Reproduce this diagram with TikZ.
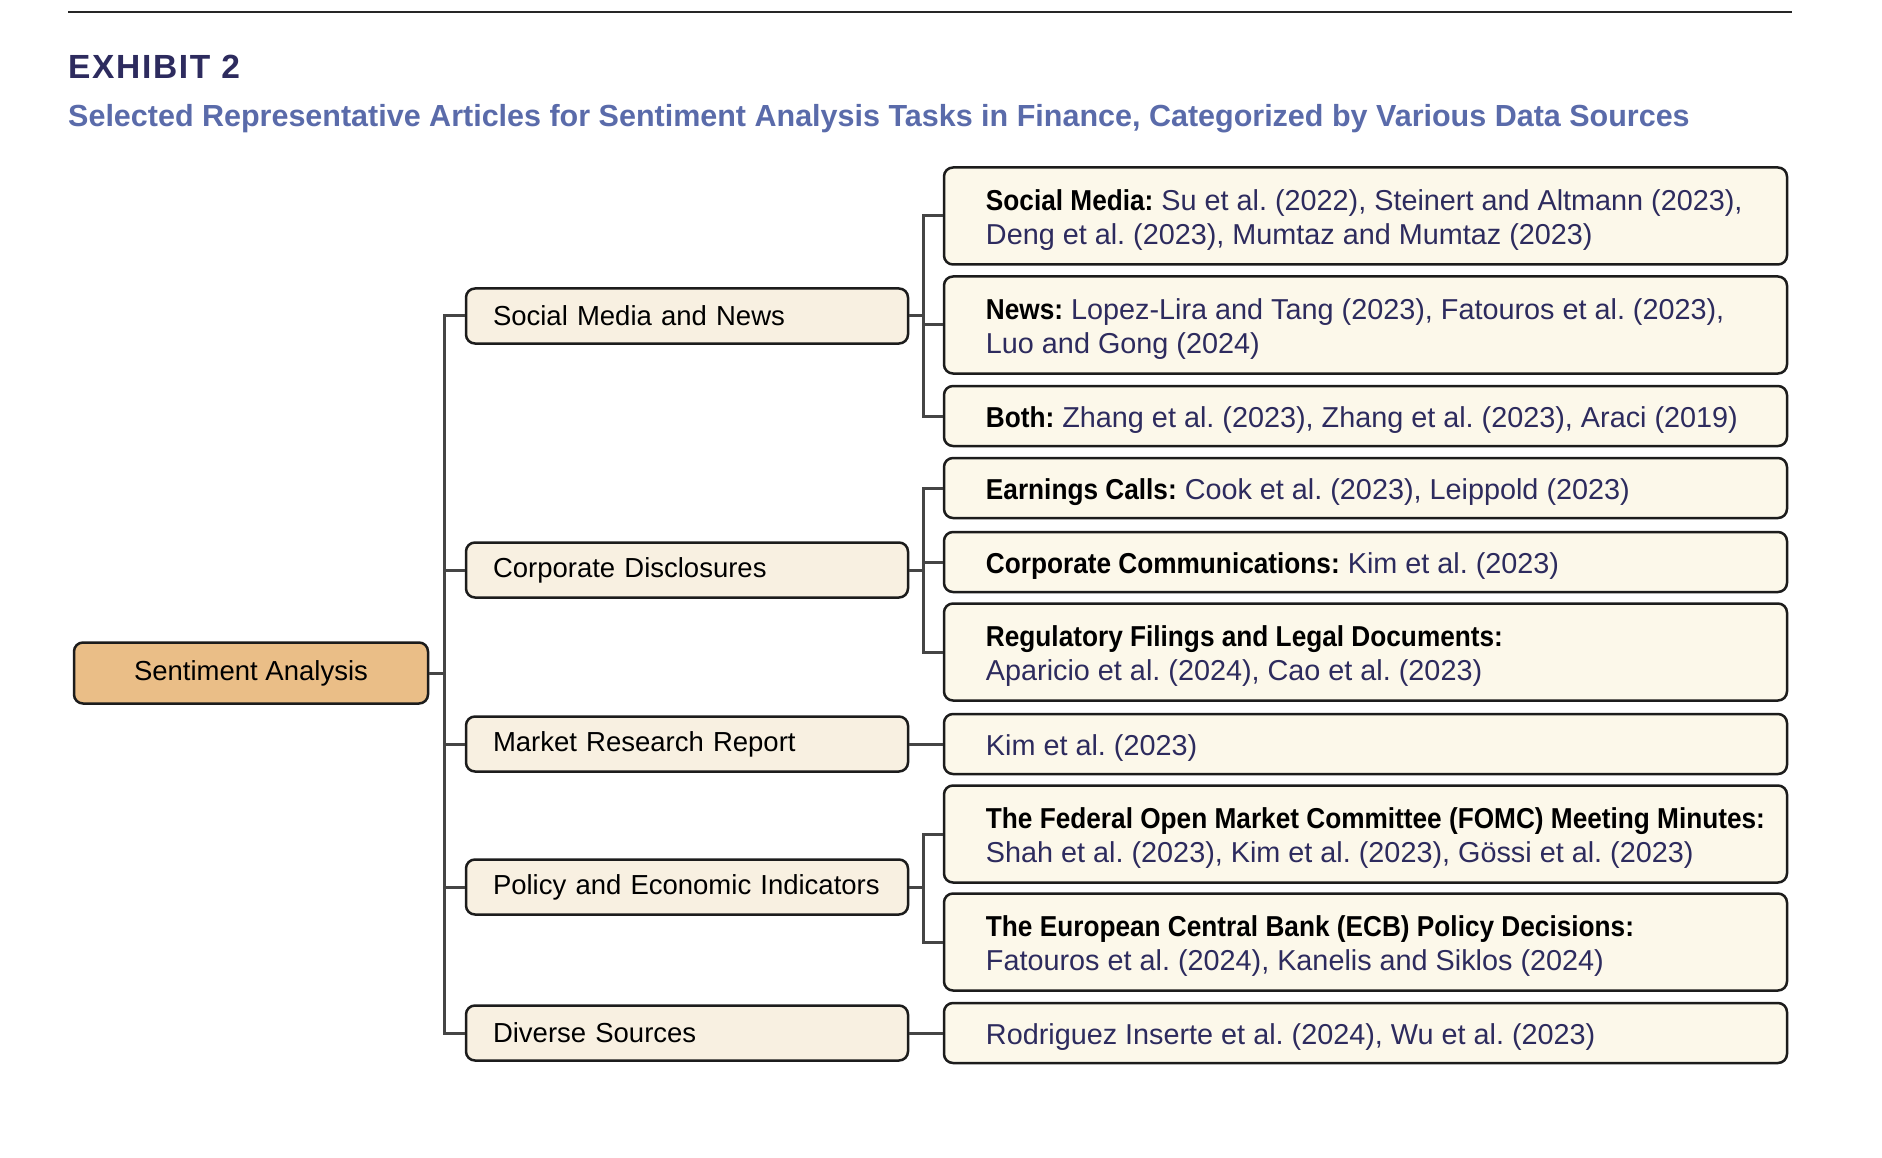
\documentclass[tikz,border=0pt]{standalone}
\usepackage{fontspec}
\setmainfont{Liberation Sans}
\newfontfamily\exfont{Liberation Sans}[LetterSpace=5]
\newfontfamily\lblfont{Liberation Sans}[FakeStretch=0.91]
\usetikzlibrary{positioning}
\definecolor{navy}{HTML}{2D2B5E}
\definecolor{subblue}{HTML}{5A6BAA}
\definecolor{rootfill}{HTML}{EABE87}
\definecolor{midfill}{HTML}{F8F0E1}
\definecolor{leaffill}{HTML}{FCF8EA}
\definecolor{linegray}{HTML}{454545}
\definecolor{edge}{HTML}{1C1C1C}
\newcommand{\lbl}[1]{\textcolor{black}{\lblfont\bfseries #1}}
\frenchspacing
\begin{document}
\begin{tikzpicture}[x=1pt,y=-1pt,
  box/.style={draw=edge, line width=2.5pt, rounded corners=9pt, inner sep=0pt},
  rootbox/.style={box, fill=rootfill, minimum width=354pt, minimum height=61pt, font=\fontsize{27.5}{34}\selectfont, text=black},
  midbox/.style={box, fill=midfill, minimum width=442pt, minimum height=55pt, text width=388pt, align=left, font=\fontsize{27.5}{34}\selectfont, text=black},
  leafbox/.style={box, fill=leaffill, minimum width=843pt},
  leaftext/.style={anchor=west, inner sep=0pt, align=left, font=\fontsize{28.8}{33.6}\selectfont, text=navy},
  one/.style={minimum height=60pt},
  two/.style={minimum height=97pt},
  conn/.style={draw=linegray, line width=3pt}]
\useasboundingbox (0,0) rectangle (1882,1158);
\fill[white] (0,0) rectangle (1882,1158);
\draw[line width=2pt, black!85] (68,12) coordinate (r1) -- (1792,12) coordinate (r2);
\node[anchor=base west, inner sep=0pt, text=navy, font=\fontsize{33.5}{40}\exfont\bfseries] (ex) at (68,79) {EXHIBIT 2};
\node[anchor=base west, inner sep=0pt, text=subblue, font=\fontsize{30.5}{36}\selectfont\bfseries] (sub) at (68,127) {Selected Representative Articles for Sentiment Analysis Tasks in Finance, Categorized by Various Data Sources};

% root
\node[rootbox] (root) at (251,673) {Sentiment Analysis};
% level 2
\node[midbox] (m1) at (687,316) {Social Media and News};
\node[midbox] (m2) at (687,570) {Corporate Disclosures};
\node[midbox] (m3) at (687,744) {Market Research Report};
\node[midbox] (m4) at (687,887) {Policy and Economic Indicators};
\node[midbox] (m5) at (687,1033) {Diverse Sources};
% leaf boxes
\node[leafbox,two] (a1) at (1365.5,216) {};
\node[leafbox,two] (a2) at (1365.5,325) {};
\node[leafbox,one] (a3) at (1365.5,416) {};
\node[leafbox,one] (b1) at (1365.5,488) {};
\node[leafbox,one] (b2) at (1365.5,562) {};
\node[leafbox,two] (b3) at (1365.5,652) {};
\node[leafbox,one] (c1) at (1365.5,744) {};
\node[leafbox,two] (d1) at (1365.5,834) {};
\node[leafbox,two] (d2) at (1365.5,942) {};
\node[leafbox,one] (e1) at (1365.5,1033) {};
% leaf texts
\tikzset{tpos/.style={xshift=43pt, yshift=-4pt}}
\node[leaftext] (a1t) at ([tpos]a1.west) {\lbl{Social Media:} Su et al. (2022), Steinert and Altmann (2023),\\Deng et al. (2023), Mumtaz and Mumtaz (2023)};
\node[leaftext] (a2t) at ([tpos]a2.west) {\lbl{News:} Lopez-Lira and Tang (2023), Fatouros et al. (2023),\\Luo and Gong (2024)};
\node[leaftext] (a3t) at ([tpos]a3.west) {\lbl{Both:} Zhang et al. (2023), Zhang et al. (2023), Araci (2019)};
\node[leaftext] (b1t) at ([tpos]b1.west) {\lbl{Earnings Calls:} Cook et al. (2023), Leippold (2023)};
\node[leaftext] (b2t) at ([tpos]b2.west) {\lbl{Corporate Communications:} Kim et al. (2023)};
\node[leaftext] (b3t) at ([tpos]b3.west) {\lbl{Regulatory Filings and Legal Documents:}\\Aparicio et al. (2024), Cao et al. (2023)};
\node[leaftext] (c1t) at ([tpos]c1.west) {Kim et al. (2023)};
\node[leaftext] (d1t) at ([tpos]d1.west) {\lbl{The Federal Open Market Committee (FOMC) Meeting Minutes:}\\Shah et al. (2023), Kim et al. (2023), Gössi et al. (2023)};
\node[leaftext] (d2t) at ([tpos]d2.west) {\lbl{The European Central Bank (ECB) Policy Decisions:}\\Fatouros et al. (2024), Kanelis and Siklos (2024)};
\node[leaftext] (e1t) at ([tpos]e1.west) {Rodriguez Inserte et al. (2024), Wu et al. (2023)};

% connectors root -> level 2
\coordinate (t) at (444,673);
\draw[conn] (root.east) -- (t);
\foreach \m in {m1,m2,m3,m4,m5} \draw[conn] (t) |- (\m.west);
% level 2 -> leaves
\coordinate (k1) at (923,316);
\coordinate (k2) at (923,570);
\coordinate (k4) at (923,887);
\draw[conn] (m1.east) -- (k1);
\foreach \l in {a1,a2,a3} \draw[conn] (k1) |- (\l.west);
\draw[conn] (m2.east) -- (k2);
\foreach \l in {b1,b2,b3} \draw[conn] (k2) |- (\l.west);
\draw[conn] (m3.east) -- (c1.west);
\draw[conn] (m4.east) -- (k4);
\foreach \l in {d1,d2} \draw[conn] (k4) |- (\l.west);
\draw[conn] (m5.east) -- (e1.west);
\end{tikzpicture}
\end{document}
